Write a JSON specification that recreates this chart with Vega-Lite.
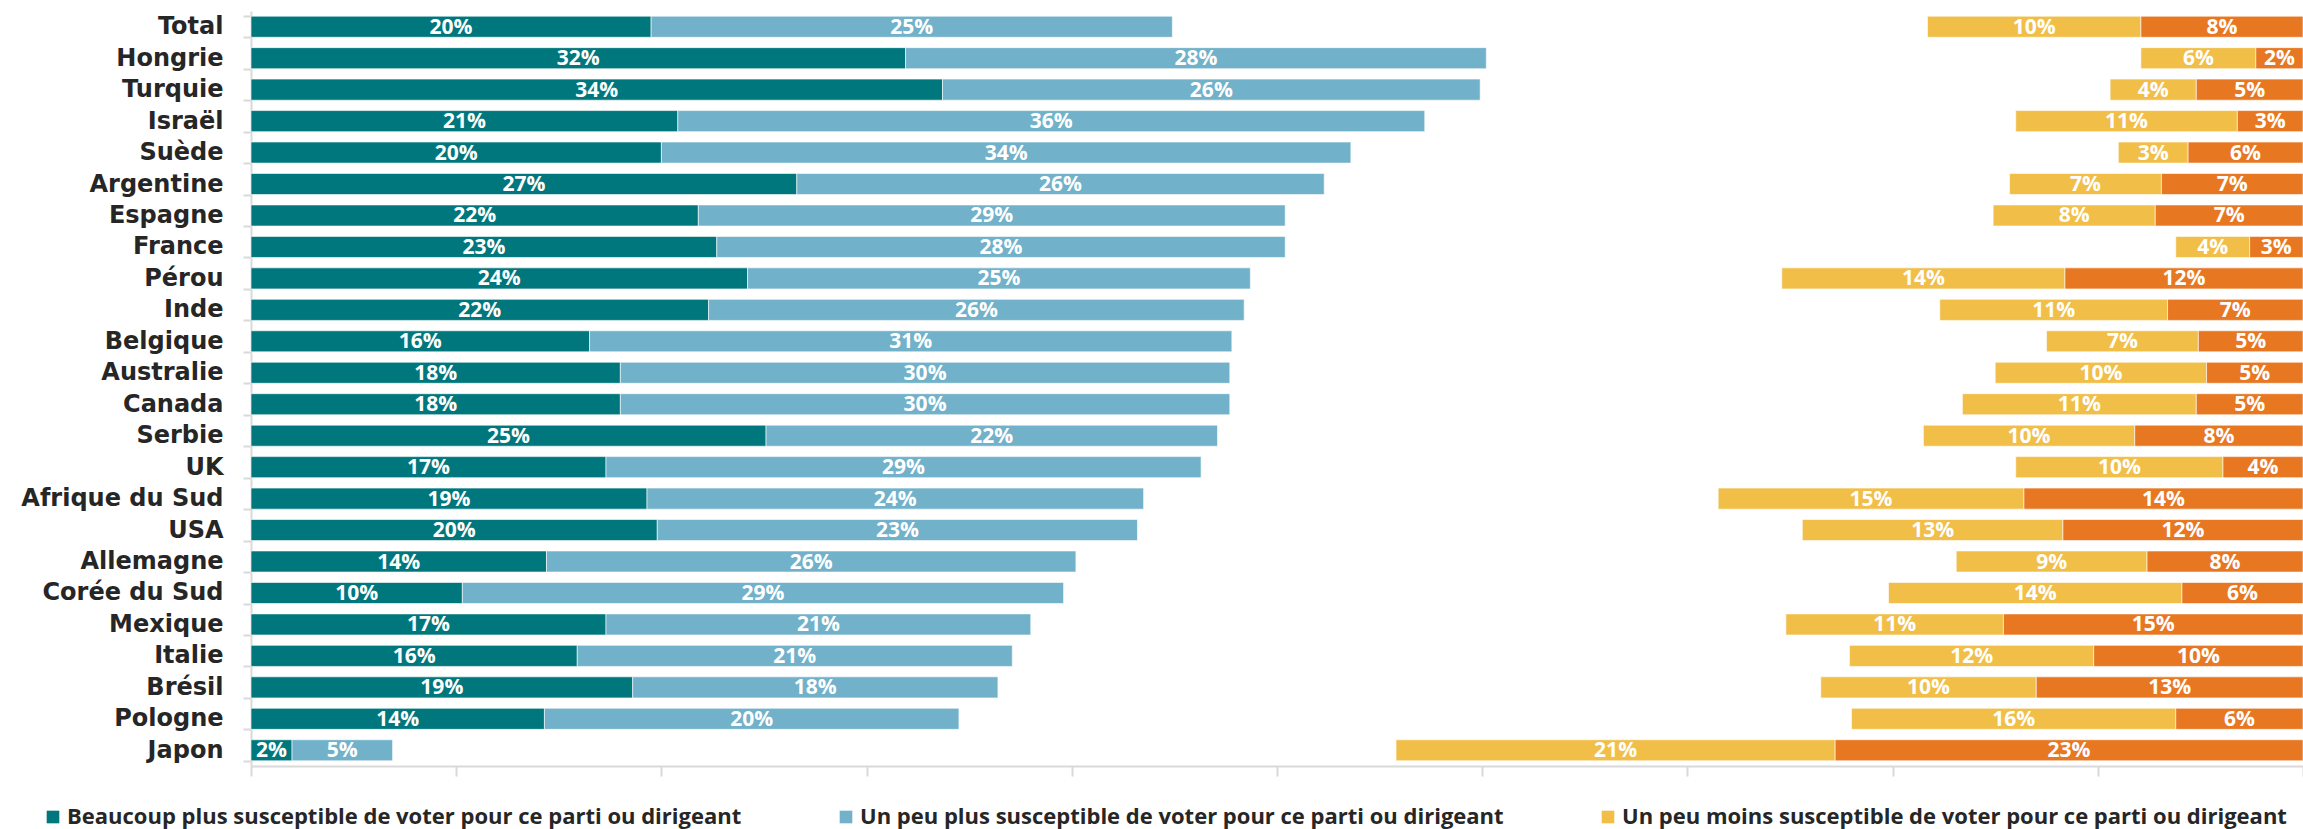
{
  "$schema": "https://vega.github.io/schema/vega-lite/v6.json",
  "width": 2052,
  "height": 755,
  "autosize": {"type": "none"},
  "padding": {"left": 251, "top": 11, "right": 0, "bottom": 63},
  "background": "white",
  "config": {
    "view": {"stroke": null},
    "legend": {
      "orient": "none",
      "legendX": -209,
      "legendY": 795,
      "direction": "horizontal",
      "columns": 4,
      "padding": 0,
      "symbolType": "square",
      "symbolSize": 160,
      "symbolStrokeWidth": 0,
      "labelFont": "Open Sans",
      "labelFontWeight": "bold",
      "labelFontSize": 22,
      "labelColor": "#262626",
      "labelLimit": 0,
      "labelOffset": 3,
      "columnPadding": 93
    }
  },
  "data": {
    "values": [
      {"pays": "Total", "cat": "Beaucoup plus susceptible de voter pour ce parti ou dirigeant", "k": 1, "v": 19.5, "lab": "20%"},
      {"pays": "Total", "cat": "Un peu plus susceptible de voter pour ce parti ou dirigeant", "k": 2, "v": 25.4, "lab": "25%"},
      {"pays": "Total", "cat": "Un peu moins susceptible de voter pour ce parti ou dirigeant", "k": 3, "v": 10.4, "lab": "10%"},
      {"pays": "Total", "cat": "Beaucoup moins susceptible de voter pour ce parti ou dirigeant", "k": 4, "v": 7.9, "lab": "8%"},
      {"pays": "Hongrie", "cat": "Beaucoup plus susceptible de voter pour ce parti ou dirigeant", "k": 1, "v": 31.9, "lab": "32%"},
      {"pays": "Hongrie", "cat": "Un peu plus susceptible de voter pour ce parti ou dirigeant", "k": 2, "v": 28.3, "lab": "28%"},
      {"pays": "Hongrie", "cat": "Un peu moins susceptible de voter pour ce parti ou dirigeant", "k": 3, "v": 5.6, "lab": "6%"},
      {"pays": "Hongrie", "cat": "Beaucoup moins susceptible de voter pour ce parti ou dirigeant", "k": 4, "v": 2.3, "lab": "2%"},
      {"pays": "Turquie", "cat": "Beaucoup plus susceptible de voter pour ce parti ou dirigeant", "k": 1, "v": 33.7, "lab": "34%"},
      {"pays": "Turquie", "cat": "Un peu plus susceptible de voter pour ce parti ou dirigeant", "k": 2, "v": 26.2, "lab": "26%"},
      {"pays": "Turquie", "cat": "Un peu moins susceptible de voter pour ce parti ou dirigeant", "k": 3, "v": 4.2, "lab": "4%"},
      {"pays": "Turquie", "cat": "Beaucoup moins susceptible de voter pour ce parti ou dirigeant", "k": 4, "v": 5.2, "lab": "5%"},
      {"pays": "Israël", "cat": "Beaucoup plus susceptible de voter pour ce parti ou dirigeant", "k": 1, "v": 20.8, "lab": "21%"},
      {"pays": "Israël", "cat": "Un peu plus susceptible de voter pour ce parti ou dirigeant", "k": 2, "v": 36.4, "lab": "36%"},
      {"pays": "Israël", "cat": "Un peu moins susceptible de voter pour ce parti ou dirigeant", "k": 3, "v": 10.8, "lab": "11%"},
      {"pays": "Israël", "cat": "Beaucoup moins susceptible de voter pour ce parti ou dirigeant", "k": 4, "v": 3.2, "lab": "3%"},
      {"pays": "Suède", "cat": "Beaucoup plus susceptible de voter pour ce parti ou dirigeant", "k": 1, "v": 20.0, "lab": "20%"},
      {"pays": "Suède", "cat": "Un peu plus susceptible de voter pour ce parti ou dirigeant", "k": 2, "v": 33.6, "lab": "34%"},
      {"pays": "Suède", "cat": "Un peu moins susceptible de voter pour ce parti ou dirigeant", "k": 3, "v": 3.4, "lab": "3%"},
      {"pays": "Suède", "cat": "Beaucoup moins susceptible de voter pour ce parti ou dirigeant", "k": 4, "v": 5.6, "lab": "6%"},
      {"pays": "Argentine", "cat": "Beaucoup plus susceptible de voter pour ce parti ou dirigeant", "k": 1, "v": 26.6, "lab": "27%"},
      {"pays": "Argentine", "cat": "Un peu plus susceptible de voter pour ce parti ou dirigeant", "k": 2, "v": 25.7, "lab": "26%"},
      {"pays": "Argentine", "cat": "Un peu moins susceptible de voter pour ce parti ou dirigeant", "k": 3, "v": 7.4, "lab": "7%"},
      {"pays": "Argentine", "cat": "Beaucoup moins susceptible de voter pour ce parti ou dirigeant", "k": 4, "v": 6.9, "lab": "7%"},
      {"pays": "Espagne", "cat": "Beaucoup plus susceptible de voter pour ce parti ou dirigeant", "k": 1, "v": 21.8, "lab": "22%"},
      {"pays": "Espagne", "cat": "Un peu plus susceptible de voter pour ce parti ou dirigeant", "k": 2, "v": 28.6, "lab": "29%"},
      {"pays": "Espagne", "cat": "Un peu moins susceptible de voter pour ce parti ou dirigeant", "k": 3, "v": 7.9, "lab": "8%"},
      {"pays": "Espagne", "cat": "Beaucoup moins susceptible de voter pour ce parti ou dirigeant", "k": 4, "v": 7.2, "lab": "7%"},
      {"pays": "France", "cat": "Beaucoup plus susceptible de voter pour ce parti ou dirigeant", "k": 1, "v": 22.7, "lab": "23%"},
      {"pays": "France", "cat": "Un peu plus susceptible de voter pour ce parti ou dirigeant", "k": 2, "v": 27.7, "lab": "28%"},
      {"pays": "France", "cat": "Un peu moins susceptible de voter pour ce parti ou dirigeant", "k": 3, "v": 3.6, "lab": "4%"},
      {"pays": "France", "cat": "Beaucoup moins susceptible de voter pour ce parti ou dirigeant", "k": 4, "v": 2.6, "lab": "3%"},
      {"pays": "Pérou", "cat": "Beaucoup plus susceptible de voter pour ce parti ou dirigeant", "k": 1, "v": 24.2, "lab": "24%"},
      {"pays": "Pérou", "cat": "Un peu plus susceptible de voter pour ce parti ou dirigeant", "k": 2, "v": 24.5, "lab": "25%"},
      {"pays": "Pérou", "cat": "Un peu moins susceptible de voter pour ce parti ou dirigeant", "k": 3, "v": 13.8, "lab": "14%"},
      {"pays": "Pérou", "cat": "Beaucoup moins susceptible de voter pour ce parti ou dirigeant", "k": 4, "v": 11.6, "lab": "12%"},
      {"pays": "Inde", "cat": "Beaucoup plus susceptible de voter pour ce parti ou dirigeant", "k": 1, "v": 22.3, "lab": "22%"},
      {"pays": "Inde", "cat": "Un peu plus susceptible de voter pour ce parti ou dirigeant", "k": 2, "v": 26.1, "lab": "26%"},
      {"pays": "Inde", "cat": "Un peu moins susceptible de voter pour ce parti ou dirigeant", "k": 3, "v": 11.1, "lab": "11%"},
      {"pays": "Inde", "cat": "Beaucoup moins susceptible de voter pour ce parti ou dirigeant", "k": 4, "v": 6.6, "lab": "7%"},
      {"pays": "Belgique", "cat": "Beaucoup plus susceptible de voter pour ce parti ou dirigeant", "k": 1, "v": 16.5, "lab": "16%"},
      {"pays": "Belgique", "cat": "Un peu plus susceptible de voter pour ce parti ou dirigeant", "k": 2, "v": 31.3, "lab": "31%"},
      {"pays": "Belgique", "cat": "Un peu moins susceptible de voter pour ce parti ou dirigeant", "k": 3, "v": 7.4, "lab": "7%"},
      {"pays": "Belgique", "cat": "Beaucoup moins susceptible de voter pour ce parti ou dirigeant", "k": 4, "v": 5.1, "lab": "5%"},
      {"pays": "Australie", "cat": "Beaucoup plus susceptible de voter pour ce parti ou dirigeant", "k": 1, "v": 18.0, "lab": "18%"},
      {"pays": "Australie", "cat": "Un peu plus susceptible de voter pour ce parti ou dirigeant", "k": 2, "v": 29.7, "lab": "30%"},
      {"pays": "Australie", "cat": "Un peu moins susceptible de voter pour ce parti ou dirigeant", "k": 3, "v": 10.3, "lab": "10%"},
      {"pays": "Australie", "cat": "Beaucoup moins susceptible de voter pour ce parti ou dirigeant", "k": 4, "v": 4.7, "lab": "5%"},
      {"pays": "Canada", "cat": "Beaucoup plus susceptible de voter pour ce parti ou dirigeant", "k": 1, "v": 18.0, "lab": "18%"},
      {"pays": "Canada", "cat": "Un peu plus susceptible de voter pour ce parti ou dirigeant", "k": 2, "v": 29.7, "lab": "30%"},
      {"pays": "Canada", "cat": "Un peu moins susceptible de voter pour ce parti ou dirigeant", "k": 3, "v": 11.4, "lab": "11%"},
      {"pays": "Canada", "cat": "Beaucoup moins susceptible de voter pour ce parti ou dirigeant", "k": 4, "v": 5.2, "lab": "5%"},
      {"pays": "Serbie", "cat": "Beaucoup plus susceptible de voter pour ce parti ou dirigeant", "k": 1, "v": 25.1, "lab": "25%"},
      {"pays": "Serbie", "cat": "Un peu plus susceptible de voter pour ce parti ou dirigeant", "k": 2, "v": 22.0, "lab": "22%"},
      {"pays": "Serbie", "cat": "Un peu moins susceptible de voter pour ce parti ou dirigeant", "k": 3, "v": 10.3, "lab": "10%"},
      {"pays": "Serbie", "cat": "Beaucoup moins susceptible de voter pour ce parti ou dirigeant", "k": 4, "v": 8.2, "lab": "8%"},
      {"pays": "UK", "cat": "Beaucoup plus susceptible de voter pour ce parti ou dirigeant", "k": 1, "v": 17.3, "lab": "17%"},
      {"pays": "UK", "cat": "Un peu plus susceptible de voter pour ce parti ou dirigeant", "k": 2, "v": 29.0, "lab": "29%"},
      {"pays": "UK", "cat": "Un peu moins susceptible de voter pour ce parti ou dirigeant", "k": 3, "v": 10.1, "lab": "10%"},
      {"pays": "UK", "cat": "Beaucoup moins susceptible de voter pour ce parti ou dirigeant", "k": 4, "v": 3.9, "lab": "4%"},
      {"pays": "Afrique du Sud", "cat": "Beaucoup plus susceptible de voter pour ce parti ou dirigeant", "k": 1, "v": 19.3, "lab": "19%"},
      {"pays": "Afrique du Sud", "cat": "Un peu plus susceptible de voter pour ce parti ou dirigeant", "k": 2, "v": 24.2, "lab": "24%"},
      {"pays": "Afrique du Sud", "cat": "Un peu moins susceptible de voter pour ce parti ou dirigeant", "k": 3, "v": 14.9, "lab": "15%"},
      {"pays": "Afrique du Sud", "cat": "Beaucoup moins susceptible de voter pour ce parti ou dirigeant", "k": 4, "v": 13.6, "lab": "14%"},
      {"pays": "USA", "cat": "Beaucoup plus susceptible de voter pour ce parti ou dirigeant", "k": 1, "v": 19.8, "lab": "20%"},
      {"pays": "USA", "cat": "Un peu plus susceptible de voter pour ce parti ou dirigeant", "k": 2, "v": 23.4, "lab": "23%"},
      {"pays": "USA", "cat": "Un peu moins susceptible de voter pour ce parti ou dirigeant", "k": 3, "v": 12.7, "lab": "13%"},
      {"pays": "USA", "cat": "Beaucoup moins susceptible de voter pour ce parti ou dirigeant", "k": 4, "v": 11.7, "lab": "12%"},
      {"pays": "Allemagne", "cat": "Beaucoup plus susceptible de voter pour ce parti ou dirigeant", "k": 1, "v": 14.4, "lab": "14%"},
      {"pays": "Allemagne", "cat": "Un peu plus susceptible de voter pour ce parti ou dirigeant", "k": 2, "v": 25.8, "lab": "26%"},
      {"pays": "Allemagne", "cat": "Un peu moins susceptible de voter pour ce parti ou dirigeant", "k": 3, "v": 9.3, "lab": "9%"},
      {"pays": "Allemagne", "cat": "Beaucoup moins susceptible de voter pour ce parti ou dirigeant", "k": 4, "v": 7.6, "lab": "8%"},
      {"pays": "Corée du Sud", "cat": "Beaucoup plus susceptible de voter pour ce parti ou dirigeant", "k": 1, "v": 10.3, "lab": "10%"},
      {"pays": "Corée du Sud", "cat": "Un peu plus susceptible de voter pour ce parti ou dirigeant", "k": 2, "v": 29.3, "lab": "29%"},
      {"pays": "Corée du Sud", "cat": "Un peu moins susceptible de voter pour ce parti ou dirigeant", "k": 3, "v": 14.3, "lab": "14%"},
      {"pays": "Corée du Sud", "cat": "Beaucoup moins susceptible de voter pour ce parti ou dirigeant", "k": 4, "v": 5.9, "lab": "6%"},
      {"pays": "Mexique", "cat": "Beaucoup plus susceptible de voter pour ce parti ou dirigeant", "k": 1, "v": 17.3, "lab": "17%"},
      {"pays": "Mexique", "cat": "Un peu plus susceptible de voter pour ce parti ou dirigeant", "k": 2, "v": 20.7, "lab": "21%"},
      {"pays": "Mexique", "cat": "Un peu moins susceptible de voter pour ce parti ou dirigeant", "k": 3, "v": 10.6, "lab": "11%"},
      {"pays": "Mexique", "cat": "Beaucoup moins susceptible de voter pour ce parti ou dirigeant", "k": 4, "v": 14.6, "lab": "15%"},
      {"pays": "Italie", "cat": "Beaucoup plus susceptible de voter pour ce parti ou dirigeant", "k": 1, "v": 15.9, "lab": "16%"},
      {"pays": "Italie", "cat": "Un peu plus susceptible de voter pour ce parti ou dirigeant", "k": 2, "v": 21.2, "lab": "21%"},
      {"pays": "Italie", "cat": "Un peu moins susceptible de voter pour ce parti ou dirigeant", "k": 3, "v": 11.9, "lab": "12%"},
      {"pays": "Italie", "cat": "Beaucoup moins susceptible de voter pour ce parti ou dirigeant", "k": 4, "v": 10.2, "lab": "10%"},
      {"pays": "Brésil", "cat": "Beaucoup plus susceptible de voter pour ce parti ou dirigeant", "k": 1, "v": 18.6, "lab": "19%"},
      {"pays": "Brésil", "cat": "Un peu plus susceptible de voter pour ce parti ou dirigeant", "k": 2, "v": 17.8, "lab": "18%"},
      {"pays": "Brésil", "cat": "Un peu moins susceptible de voter pour ce parti ou dirigeant", "k": 3, "v": 10.5, "lab": "10%"},
      {"pays": "Brésil", "cat": "Beaucoup moins susceptible de voter pour ce parti ou dirigeant", "k": 4, "v": 13.0, "lab": "13%"},
      {"pays": "Pologne", "cat": "Beaucoup plus susceptible de voter pour ce parti ou dirigeant", "k": 1, "v": 14.3, "lab": "14%"},
      {"pays": "Pologne", "cat": "Un peu plus susceptible de voter pour ce parti ou dirigeant", "k": 2, "v": 20.2, "lab": "20%"},
      {"pays": "Pologne", "cat": "Un peu moins susceptible de voter pour ce parti ou dirigeant", "k": 3, "v": 15.8, "lab": "16%"},
      {"pays": "Pologne", "cat": "Beaucoup moins susceptible de voter pour ce parti ou dirigeant", "k": 4, "v": 6.2, "lab": "6%"},
      {"pays": "Japon", "cat": "Beaucoup plus susceptible de voter pour ce parti ou dirigeant", "k": 1, "v": 2.0, "lab": "2%"},
      {"pays": "Japon", "cat": "Un peu plus susceptible de voter pour ce parti ou dirigeant", "k": 2, "v": 4.9, "lab": "5%"},
      {"pays": "Japon", "cat": "Un peu moins susceptible de voter pour ce parti ou dirigeant", "k": 3, "v": 21.4, "lab": "21%"},
      {"pays": "Japon", "cat": "Beaucoup moins susceptible de voter pour ce parti ou dirigeant", "k": 4, "v": 22.8, "lab": "23%"}
    ]
  },
  "encoding": {
    "y": {
      "field": "pays",
      "type": "nominal",
      "sort": null,
      "title": null,
      "scale": {"paddingInner": 0.33, "paddingOuter": 0.165},
      "axis": {
        "domainColor": "#d9d9d9",
        "domainWidth": 2,
        "tickColor": "#d9d9d9",
        "tickWidth": 2,
        "tickSize": 8,
        "tickBand": "extent",
        "labelFont": "DejaVu Sans",
        "labelFontWeight": "bold",
        "labelFontSize": 24,
        "labelColor": "#262626",
        "labelPadding": 20,
        "labelLimit": 0
      }
    }
  },
  "layer": [
    {
      "transform": [{"filter": {"field": "k", "lte": 2}}],
      "layer": [
        {
          "mark": {"type": "bar", "stroke": "white", "strokeWidth": 1, "strokeOpacity": 0.6},
          "encoding": {
            "x": {
              "field": "v",
              "type": "quantitative",
              "stack": "zero",
              "title": null,
              "scale": {"domain": [0, 100], "nice": false},
              "axis": {
                "labels": false,
                "grid": false,
                "tickCount": 10,
                "domainColor": "#d9d9d9",
                "domainWidth": 2,
                "tickColor": "#d9d9d9",
                "tickWidth": 2,
                "tickSize": 10
              }
            },
            "color": {
              "field": "cat",
              "type": "nominal",
              "title": null,
              "scale": {
                "domain": [
                  "Beaucoup plus susceptible de voter pour ce parti ou dirigeant",
                  "Un peu plus susceptible de voter pour ce parti ou dirigeant",
                  "Un peu moins susceptible de voter pour ce parti ou dirigeant",
                  "Beaucoup moins susceptible de voter pour ce parti ou dirigeant"
                ],
                "range": ["#00777d", "#71b1c9", "#f1be48", "#e87722"]
              }
            },
            "order": {"field": "k", "type": "quantitative", "sort": "ascending"}
          }
        },
        {
          "mark": {"type": "text", "font": "Open Sans", "fontWeight": "bold", "fontSize": 21, "color": "white", "baseline": "middle", "dy": 1},
          "encoding": {
            "x": {"field": "v", "type": "quantitative", "stack": "zero", "bandPosition": 0.5},
            "detail": {"field": "cat", "type": "nominal"},
            "text": {"field": "lab", "type": "nominal"},
            "order": {"field": "k", "type": "quantitative", "sort": "ascending"}
          }
        }
      ]
    },
    {
      "transform": [{"filter": {"field": "k", "gte": 3}}],
      "layer": [
        {
          "mark": {"type": "bar", "stroke": "white", "strokeWidth": 1, "strokeOpacity": 0.6},
          "encoding": {
            "x": {
              "field": "v",
              "type": "quantitative",
              "stack": "zero",
              "title": null,
              "scale": {"domain": [0, 100], "nice": false, "reverse": true},
              "axis": null
            },
            "color": {"field": "cat", "type": "nominal", "title": null},
            "order": {"field": "k", "type": "quantitative", "sort": "descending"}
          }
        },
        {
          "mark": {"type": "text", "font": "Open Sans", "fontWeight": "bold", "fontSize": 21, "color": "white", "baseline": "middle", "dy": 1},
          "encoding": {
            "x": {"field": "v", "type": "quantitative", "stack": "zero", "bandPosition": 0.5, "axis": null},
            "detail": {"field": "cat", "type": "nominal"},
            "text": {"field": "lab", "type": "nominal"},
            "order": {"field": "k", "type": "quantitative", "sort": "descending"}
          }
        }
      ]
    }
  ],
  "resolve": {"scale": {"x": "independent"}}
}
